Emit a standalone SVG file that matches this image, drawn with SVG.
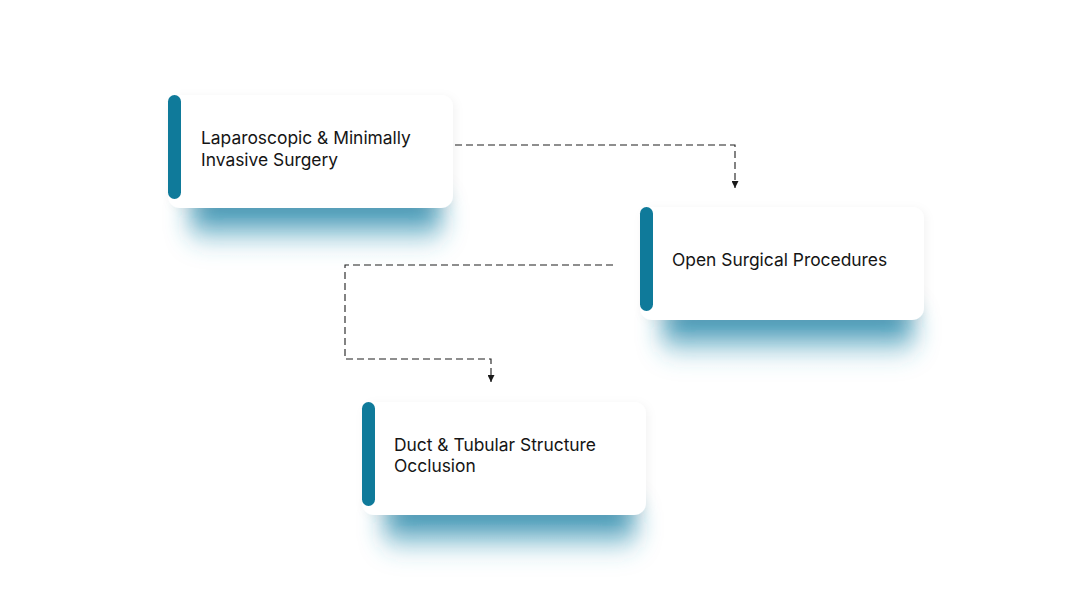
<svg xmlns="http://www.w3.org/2000/svg" width="1080" height="608" viewBox="0 0 1080 608">
  <defs>
    <filter id="glow" x="-30%" y="-100%" width="160%" height="300%">
      <feGaussianBlur stdDeviation="12"/>
    </filter>
    <filter id="soft" x="-10%" y="-20%" width="120%" height="150%">
      <feDropShadow dx="2" dy="2" stdDeviation="5" flood-color="#000" flood-opacity="0.05"/>
    </filter>
    <linearGradient id="tg" x1="0" y1="0" x2="0" y2="1">
      <stop offset="0" stop-color="#0f76a0" stop-opacity="1"/>
      <stop offset="0.45" stop-color="#1f86a8" stop-opacity="0.75"/>
      <stop offset="1" stop-color="#4aa3c0" stop-opacity="0"/>
    </linearGradient>
    <marker id="arr" viewBox="0 0 8 8" refX="8" refY="4" markerWidth="7" markerHeight="7" orient="auto" markerUnits="userSpaceOnUse">
      <path d="M0,0 L8,4 L0,8 Z" fill="#1a1a1a"/>
    </marker>
    <style>
      .glow { fill: url(#tg); filter: url(#glow); }
      .card { fill: #ffffff; filter: url(#soft); }
      .bar { fill: #0f7a9a; }
      .lbl { font-family: Inter, "Noto Sans", "Liberation Sans", sans-serif; font-size: 17.4px; fill: #151515; }
      .conn { fill: none; stroke: #1e1e1e; stroke-width: 1.1; stroke-dasharray: 7 4; marker-end: url(#arr); }
    </style>
  </defs>
  <rect width="1080" height="608" fill="#ffffff"/>

  <g id="connectors">
    <path class="conn" d="M455,145 H735 V188"/>
    <path class="conn" d="M613,265 H345 V359 H491 V382"/>
  </g>

  <g id="node1">
    <rect class="glow" x="190" y="194" width="252" height="54" rx="18"/>
    <rect class="card" x="168" y="95" width="285" height="113" rx="12"/>
    <rect class="bar" x="168" y="95" width="13" height="104" rx="6.5"/>
    <text class="lbl" x="201" y="144">Laparoscopic &amp; Minimally</text>
    <text class="lbl" x="201" y="166">Invasive Surgery</text>
  </g>

  <g id="node2">
    <rect class="glow" x="662" y="306" width="252" height="54" rx="18"/>
    <rect class="card" x="640" y="207" width="284" height="113" rx="12"/>
    <rect class="bar" x="640" y="207" width="13" height="104" rx="6.5"/>
    <text class="lbl" x="672" y="266">Open Surgical Procedures</text>
  </g>

  <g id="node3">
    <rect class="glow" x="384" y="501" width="252" height="54" rx="18"/>
    <rect class="card" x="362" y="402" width="284" height="113" rx="12"/>
    <rect class="bar" x="362" y="402" width="13" height="104" rx="6.5"/>
    <text class="lbl" x="394" y="451">Duct &amp; Tubular Structure</text>
    <text class="lbl" x="394" y="472">Occlusion</text>
  </g>
</svg>
